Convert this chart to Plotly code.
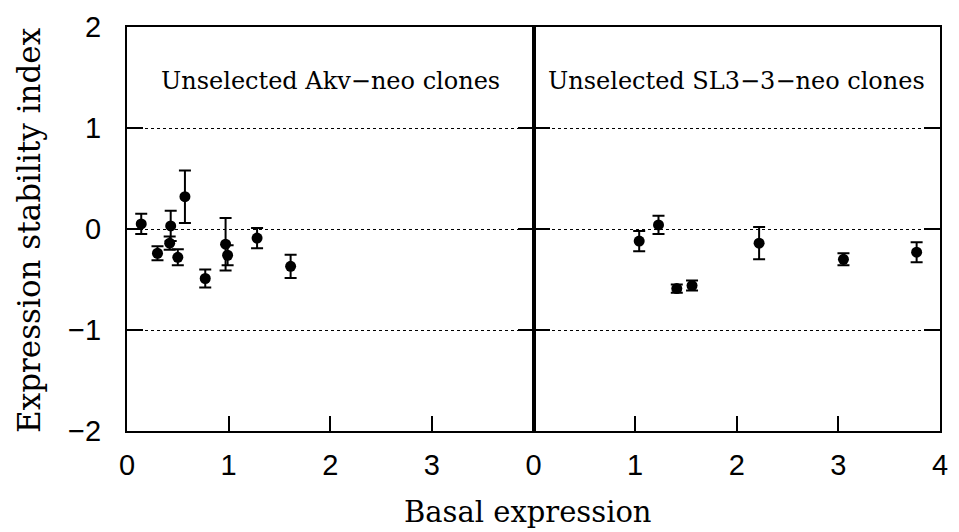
import plotly.graph_objects as go
from plotly.subplots import make_subplots

# Left panel: Unselected Akv-neo clones
akv_x = [0.14, 0.30, 0.43, 0.42, 0.50, 0.57, 0.77, 0.97, 0.99, 1.28, 1.61]
akv_y = [0.05, -0.24, 0.03, -0.14, -0.28, 0.32, -0.49, -0.15, -0.26, -0.09, -0.37]
akv_err = [0.10, 0.07, 0.15, 0.065, 0.08, 0.26, 0.09, 0.26, 0.10, 0.10, 0.115]

# Right panel: Unselected SL3-3-neo clones
sl3_x = [1.04, 1.23, 1.41, 1.56, 2.22, 3.05, 3.77]
sl3_y = [-0.12, 0.04, -0.59, -0.56, -0.14, -0.30, -0.23]
sl3_err = [0.10, 0.09, 0.04, 0.05, 0.16, 0.06, 0.10]

panel_titles = ["Unselected Akv\u2212neo clones", "Unselected SL3\u22123\u2212neo clones"]
y_ticks = [-2, -1, 0, 1, 2]
y_ticklabels = ["\u22122", "\u22121", "0", "1", "2"]
x_ticks_left = [0, 1, 2, 3]
x_ticks_right = [0, 1, 2, 3, 4]

fig = make_subplots(rows=1, cols=2, shared_yaxes=False, horizontal_spacing=0)

for col, (xs, ys, es) in enumerate([(akv_x, akv_y, akv_err), (sl3_x, sl3_y, sl3_err)], start=1):
    fig.add_trace(go.Scatter(
        x=xs, y=ys, mode="markers",
        marker=dict(symbol="circle", size=11, color="black"),
        error_y=dict(type="data", array=es, visible=True, color="black", thickness=2, width=6),
        showlegend=False,
    ), row=1, col=col)

tickfont = dict(family="Liberation Sans", size=29, color="black")
serif = "DejaVu Serif"

common_x = dict(range=[0, 4], showline=True, linecolor="black", linewidth=2, mirror=True,
                ticks="inside", ticklen=15, tickwidth=2, tickcolor="black",
                showgrid=False, zeroline=False, tickfont=tickfont, ticklabelstandoff=7)
common_y = dict(range=[-2, 2], showline=True, linecolor="black", linewidth=2, mirror="ticks",
                ticks="inside", ticklen=16, tickwidth=2, tickcolor="black",
                tickvals=y_ticks, ticktext=y_ticklabels,
                showgrid=True, gridcolor="black", griddash="dot", gridwidth=1,
                zeroline=False, tickfont=tickfont)

fig.update_xaxes(**common_x, tickvals=x_ticks_left, row=1, col=1)
fig.update_xaxes(**common_x, tickvals=x_ticks_right, row=1, col=2)
fig.update_yaxes(**common_y, ticklabelstandoff=18, row=1, col=1)
fig.update_yaxes(**common_y, showticklabels=False, row=1, col=2)

fig.add_annotation(x=2, y=1.47, xref="x", yref="y", text=panel_titles[0], showarrow=False,
                   font=dict(family=serif, size=24, color="black"))
fig.add_annotation(x=2, y=1.47, xref="x2", yref="y2", text=panel_titles[1], showarrow=False,
                   font=dict(family=serif, size=24, color="black"))

fig.add_annotation(x=0.493, y=-0.201, xref="paper", yref="paper", text="Basal expression",
                   showarrow=False, font=dict(family=serif, size=29, color="black"),
                   xanchor="center", yanchor="middle")
fig.add_annotation(x=-0.1206, y=0.4975, xref="paper", yref="paper", text="Expression stability index",
                   showarrow=False, textangle=-90, font=dict(family=serif, size=31, color="black"),
                   xanchor="center", yanchor="middle")

fig.update_layout(
    width=959, height=532,
    margin=dict(l=127, r=11, t=23, b=101),
    plot_bgcolor="white", paper_bgcolor="white",
)

fig.write_html("out.html", config={"displayModeBar": False},
               post_script="document.body.style.margin='0px';document.body.style.overflow='hidden';")
